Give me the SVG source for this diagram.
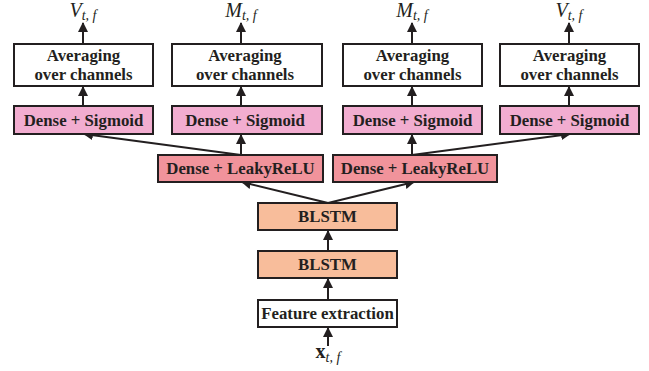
<svg xmlns="http://www.w3.org/2000/svg" width="649" height="371" viewBox="0 0 649 371">
<defs>
<marker id="ah" viewBox="0 0 10 10" refX="9" refY="5" markerWidth="10" markerHeight="10" markerUnits="userSpaceOnUse" orient="auto">
<path d="M0,0 L10,5 L0,10 Z" fill="#231f20"/>
</marker>
<style>
.box{stroke:#231f20;stroke-width:2}
.w{fill:#fff}
.sig{fill:#f2add0}
.lk{fill:#f1939b}
.bl{fill:#f8bd9b}
.t{font-family:"Liberation Serif","Times New Roman",serif;font-weight:bold;font-size:16.8px;fill:#231f20;text-anchor:middle}
.m{font-family:"Liberation Serif","Times New Roman",serif;font-style:italic;fill:#231f20;text-anchor:middle}
.c{stroke:#231f20;stroke-width:2;fill:none;marker-end:url(#ah)}
</style>
</defs>
<rect width="649" height="371" fill="#fff"/>
<g id="connectors">
<line class="c" x1="328" y1="346" x2="328" y2="328"/>
<line class="c" x1="328" y1="300" x2="328" y2="279"/>
<line class="c" x1="328" y1="251" x2="328" y2="231"/>
<line class="c" x1="328" y1="203" x2="242" y2="182"/>
<line class="c" x1="328" y1="203" x2="414" y2="182"/>
<line class="c" x1="241" y1="155" x2="84" y2="134"/>
<line class="c" x1="241" y1="155" x2="241" y2="135"/>
<line class="c" x1="412" y1="155" x2="412" y2="135"/>
<line class="c" x1="412" y1="155" x2="570" y2="134"/>
<line class="c" x1="83" y1="106" x2="83" y2="87"/>
<line class="c" x1="241" y1="106" x2="241" y2="87"/>
<line class="c" x1="412" y1="106" x2="412" y2="87"/>
<line class="c" x1="569" y1="106" x2="569" y2="87"/>
<line class="c" x1="83" y1="44" x2="83" y2="23"/>
<line class="c" x1="241" y1="44" x2="241" y2="23"/>
<line class="c" x1="412" y1="44" x2="412" y2="23"/>
<line class="c" x1="569" y1="44" x2="569" y2="23"/>
</g>
<g id="feature">
<rect class="box w" x="258" y="300" width="139" height="27"/>
<text class="t" x="327.5" y="319">Feature extraction</text>
</g>
<g id="blstm1">
<rect class="box bl" x="258" y="251" width="139" height="27"/>
<text class="t" x="327.5" y="270">BLSTM</text>
</g>
<g id="blstm2">
<rect class="box bl" x="258" y="203" width="139" height="27"/>
<text class="t" x="327.5" y="222">BLSTM</text>
</g>
<g id="leaky1">
<rect class="box lk" x="158" y="155" width="165" height="27"/>
<text class="t" x="240.5" y="174">Dense + LeakyReLU</text>
</g>
<g id="leaky2">
<rect class="box lk" x="333" y="155" width="164" height="27"/>
<text class="t" x="415" y="174">Dense + LeakyReLU</text>
</g>
<g id="sig1">
<rect class="box sig" x="14" y="106" width="139" height="28"/>
<text class="t" x="83.5" y="125.5">Dense + Sigmoid</text>
</g>
<g id="sig2">
<rect class="box sig" x="172" y="106" width="150" height="28"/>
<text class="t" x="245" y="125.5">Dense + Sigmoid</text>
</g>
<g id="sig3">
<rect class="box sig" x="343" y="106" width="139" height="28"/>
<text class="t" x="412.5" y="125.5">Dense + Sigmoid</text>
</g>
<g id="sig4">
<rect class="box sig" x="500" y="106" width="139" height="28"/>
<text class="t" x="569.5" y="125.5">Dense + Sigmoid</text>
</g>
<g id="avg1">
<rect class="box w" x="14" y="44" width="139" height="42"/>
<text class="t" x="83.5" y="61">Averaging</text>
<text class="t" x="83.5" y="80">over channels</text>
</g>
<g id="avg2">
<rect class="box w" x="172" y="44" width="150" height="42"/>
<text class="t" x="245" y="61">Averaging</text>
<text class="t" x="245" y="80">over channels</text>
</g>
<g id="avg3">
<rect class="box w" x="343" y="44" width="139" height="42"/>
<text class="t" x="412.5" y="61">Averaging</text>
<text class="t" x="412.5" y="80">over channels</text>
</g>
<g id="avg4">
<rect class="box w" x="500" y="44" width="139" height="42"/>
<text class="t" x="569.5" y="61">Averaging</text>
<text class="t" x="569.5" y="80">over channels</text>
</g>
<g id="out1"><text class="m" x="83" y="17" font-size="20">V<tspan font-size="14" dy="3">t, f</tspan></text></g>
<g id="out2"><text class="m" x="241" y="17" font-size="20">M<tspan font-size="14" dy="3">t, f</tspan></text></g>
<g id="out3"><text class="m" x="412" y="17" font-size="20">M<tspan font-size="14" dy="3">t, f</tspan></text></g>
<g id="out4"><text class="m" x="569" y="17" font-size="20">V<tspan font-size="14" dy="3">t, f</tspan></text></g>
<g id="input"><text class="m" x="328" y="358" font-size="20"><tspan font-style="normal" font-weight="bold">x</tspan><tspan font-size="14" dy="4">t, f</tspan></text></g>
</svg>
